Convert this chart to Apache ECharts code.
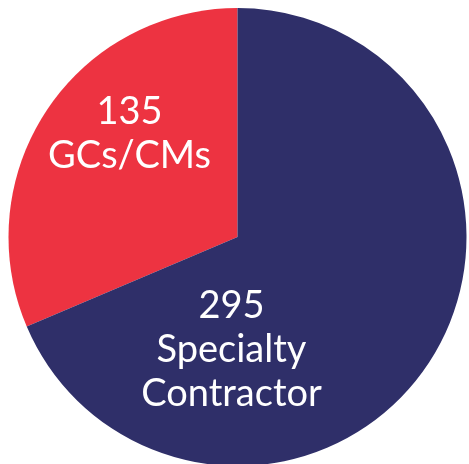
<!DOCTYPE html>
<html>
<head>
<meta charset="utf-8">
<script src="https://cdn.jsdelivr.net/npm/echarts@6/dist/echarts.min.js"></script>
<style>
  html, body { margin: 0; padding: 0; background: #fff; }
  #chart { width: 469px; height: 464px; }
</style>
</head>
<body>
<div id="chart"></div>
<script>
// 数据
const names = ['GCs/CMs', 'Specialty\nContractor'];
const values = [135, 295];
const colors = ['#ED3341', '#2F2F69'];

let myChart = echarts.init(document.getElementById('chart'));

// 标签偏移 (相对于扇区内部默认位置)
const shifts = [[-10, -38], [-104, 48]];

myChart.setOption({
  backgroundColor: '#ffffff',
  animation: false,
  series: [{
    type: 'pie',
    center: [237.5, 237],
    radius: 229,
    startAngle: 90,
    clockwise: false,
    silent: true,
    data: names.map((n, i) => ({
      name: n,
      value: values[i],
      itemStyle: { color: colors[i] }
    })),
    label: {
      position: 'inside',
      formatter: p => p.value + '\n' + p.name,
      color: '#ffffff',
      fontFamily: 'Lato',
      fontSize: 38,
      lineHeight: 44,
      align: 'center'
    },
    labelLine: { show: false },
    labelLayout: p => ({ dx: shifts[p.dataIndex][0], dy: shifts[p.dataIndex][1] })
  }]
});
</script>
</body>
</html>
